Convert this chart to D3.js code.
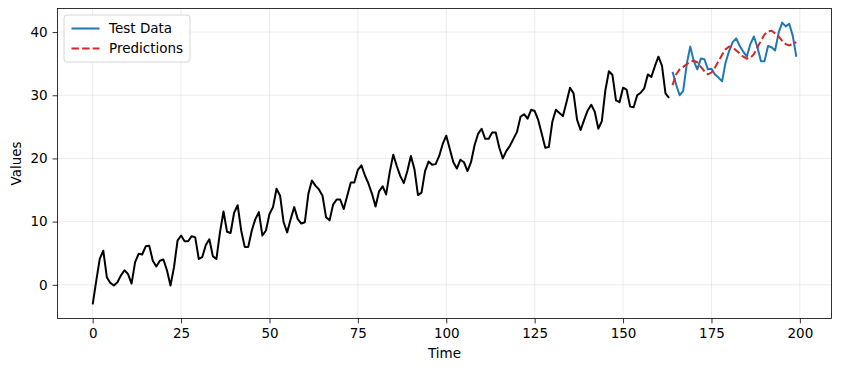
<!DOCTYPE html>
<html>
<head>
<meta charset="utf-8">
<script src="https://cdn.jsdelivr.net/npm/d3@7"></script>
<style>
  html, body { margin: 0; padding: 0; background: #fff; }
  svg { display: block; }
  text { font-family: "DejaVu Sans", sans-serif; }
</style>
</head>
<body>
<svg id="chart" width="842" height="371"></svg>
<script>
// ---- data ----
const trainStart = 0;
const trainValues = [
  -3.1, 0.6, 4.1, 5.4, 1.2, 0.3, -0.1, 0.4, 1.5, 2.3,
  1.7, 0.2, 3.6, 4.9, 4.8, 6.1, 6.2, 3.8, 2.9, 3.8,
  4.0, 2.3, -0.1, 2.8, 7.0, 7.8, 6.9, 6.9, 7.7, 7.5,
  4.1, 4.4, 6.3, 7.2, 4.5, 4.1, 8.3, 11.6, 8.4, 8.2,
  11.4, 12.6, 8.6, 6.0, 6.0, 8.6, 10.4, 11.5, 7.8, 8.6,
  11.2, 12.3, 15.2, 14.1, 9.9, 8.3, 10.4, 12.3, 10.4, 9.7,
  9.9, 14.4, 16.5, 15.7, 15.1, 14.1, 10.7, 10.2, 12.7, 13.5,
  13.5, 12.0, 14.1, 16.2, 16.2, 18.2, 18.9, 17.3, 16.0, 14.4,
  12.4, 14.8, 15.6, 14.3, 17.8, 20.6, 18.8, 17.2, 16.1, 18.0,
  20.4, 18.3, 14.2, 14.6, 18.0, 19.5, 19.0, 19.1, 20.4, 22.3,
  23.6, 21.5, 19.4, 18.4, 19.8, 19.4, 18.0, 19.4, 22.1, 23.9,
  24.7, 23.1, 23.1, 24.1, 24.1, 21.7, 20.0, 21.2, 22.0, 23.1,
  24.2, 26.6, 27.0, 26.3, 27.7, 27.5, 26.1, 23.9, 21.7, 21.8,
  25.8, 27.7, 27.2, 26.7, 28.9, 31.2, 30.3, 26.1, 24.5, 26.1,
  27.6, 28.5, 27.4, 24.7, 25.9, 30.8, 33.8, 33.2, 29.2, 28.9,
  31.2, 30.9, 28.2, 28.1, 30.0, 30.4, 31.1, 33.3, 32.9, 34.6,
  36.1, 34.7, 30.3, 29.6
];
const testStart = 164;
const testValues = [
  33.7, 31.7, 30.0, 30.7, 34.9, 37.7, 35.4, 34.1, 35.8, 35.7,
  34.1, 34.2, 33.3, 32.8, 32.2, 35.2, 37.0, 38.4, 39.0, 37.8,
  36.9, 36.1, 38.1, 39.3, 37.6, 35.4, 35.4, 37.8, 37.6, 37.1,
  39.9, 41.5, 40.9, 41.3, 39.4, 36.1
];
const predValues = [
  31.6, 33.3, 34.1, 34.5, 34.9, 35.3, 35.5, 35.2, 34.5, 33.8,
  33.3, 33.6, 34.4, 35.4, 36.4, 37.3, 37.7, 37.6, 37.1, 36.6,
  36.1, 35.8, 35.9, 36.5, 37.6, 38.6, 39.6, 40.1, 40.2, 39.8,
  39.3, 38.6, 38.1, 37.9, 38.1, 38.4
];
const xTicks = [0, 25, 50, 75, 100, 125, 150, 175, 200];
const yTicks = [0, 10, 20, 30, 40];
const seriesNames = ["Test Data", "Predictions"];
const seriesColors = ["#1f77b4", "#d62728"];

// ---- layout ----
const W = 842, H = 371;
const mLeft = 57.5, mRight = 831.5, mTop = 8.5, mBottom = 318.5;

const trainPts = trainValues.map((v, i) => [trainStart + i, v]);
const testPts = testValues.map((v, i) => [testStart + i, v]);
const predPts = predValues.map((v, i) => [testStart + i, v]);
const all = trainPts.concat(testPts, predPts);

const xExt = d3.extent(all, d => d[0]);
const yExt = d3.extent(all, d => d[1]);
const xPad = (xExt[1] - xExt[0]) * 0.05, yPad = (yExt[1] - yExt[0]) * 0.05;

const x = d3.scaleLinear().domain([xExt[0] - xPad, xExt[1] + xPad]).range([mLeft, mRight]);
const y = d3.scaleLinear().domain([yExt[0] - yPad, yExt[1] + yPad]).range([mBottom, mTop]);

const svg = d3.select("#chart");
svg.append("rect").attr("width", W).attr("height", H).attr("fill", "#fff");

// grid
const grid = svg.append("g");
grid.selectAll(".gx").data(xTicks).enter().append("line")
  .attr("x1", d => x(d)).attr("x2", d => x(d)).attr("y1", mTop).attr("y2", mBottom)
  .attr("stroke", "#b0b0b0").attr("stroke-opacity", 0.3).attr("stroke-width", 0.8);
grid.selectAll(".gy").data(yTicks).enter().append("line")
  .attr("y1", d => y(d)).attr("y2", d => y(d)).attr("x1", mLeft).attr("x2", mRight)
  .attr("stroke", "#b0b0b0").attr("stroke-opacity", 0.3).attr("stroke-width", 0.8);

// lines
const line = d3.line().x(d => x(d[0])).y(d => y(d[1]));
const plot = svg.append("g");
plot.append("path").datum(trainPts).attr("d", line).attr("fill", "none")
  .attr("stroke", "#000").attr("stroke-width", 2).attr("stroke-linejoin", "round");
plot.append("path").datum(testPts).attr("d", line).attr("fill", "none")
  .attr("stroke", seriesColors[0]).attr("stroke-width", 2).attr("stroke-linejoin", "round");
plot.append("path").datum(predPts).attr("d", line).attr("fill", "none")
  .attr("stroke", seriesColors[1]).attr("stroke-width", 2)
  .attr("stroke-dasharray", "7.4,3.2");

// axes
const xAxis = d3.axisBottom(x).tickValues(xTicks).tickSize(4.9).tickPadding(4.9).tickFormat(d3.format("d"));
const yAxis = d3.axisLeft(y).tickValues(yTicks).tickSize(4.9).tickPadding(4.9).tickFormat(d3.format("d"));
const gx = svg.append("g").attr("transform", `translate(0,${mBottom})`).call(xAxis);
const gy = svg.append("g").attr("transform", `translate(${mLeft},0)`).call(yAxis);
[gx, gy].forEach(g => {
  g.select(".domain").remove();
  g.selectAll("line").attr("stroke", "#000").attr("stroke-width", 0.8);
  g.selectAll("text").attr("font-size", "13.5px").attr("fill", "#000")
    .attr("font-family", "DejaVu Sans, sans-serif");
});

// frame
svg.append("rect").attr("x", mLeft).attr("y", mTop).attr("width", mRight - mLeft).attr("height", mBottom - mTop)
  .attr("fill", "none").attr("stroke", "#000").attr("stroke-width", 0.8);

// labels
svg.append("text").attr("x", (mLeft + mRight) / 2).attr("y", 358).attr("text-anchor", "middle")
  .attr("font-size", "13.5px").text("Time");
svg.append("text").attr("transform", `translate(21,${(mTop + mBottom) / 2}) rotate(-90)`)
  .attr("text-anchor", "middle").attr("font-size", "13.5px").text("Values");

// legend
const lg = svg.append("g").attr("transform", `translate(${mLeft + 6.5},${mTop + 6.5})`);
lg.append("rect").attr("width", 126).attr("height", 47).attr("rx", 3)
  .attr("fill", "#fff").attr("fill-opacity", 0.8).attr("stroke", "#cccccc").attr("stroke-width", 0.8);
seriesNames.forEach((name, i) => {
  const cy = 13.5 + i * 20;
  lg.append("line").attr("x1", 7.5).attr("x2", 35.5).attr("y1", cy).attr("y2", cy)
    .attr("stroke", seriesColors[i]).attr("stroke-width", 2)
    .attr("stroke-dasharray", i === 1 ? "7.4,3.2" : null);
  lg.append("text").attr("x", 45).attr("y", cy).attr("dy", "0.35em")
    .attr("font-size", "13.5px").text(name);
});
</script>
</body>
</html>
